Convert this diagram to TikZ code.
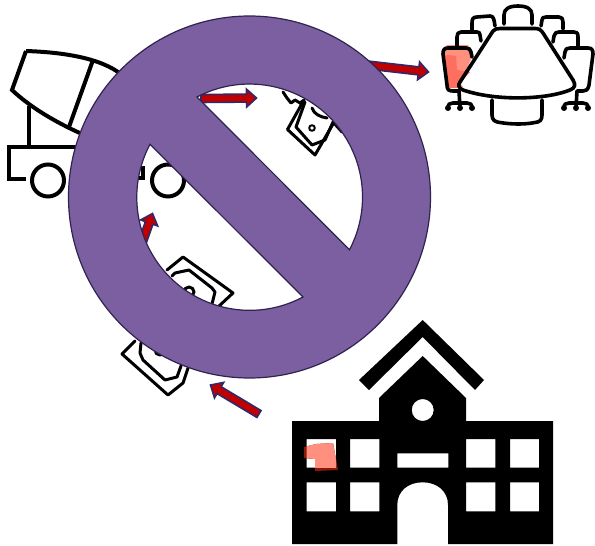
\documentclass[tikz,border=0pt]{standalone}
\usetikzlibrary{calc}
\definecolor{ringfill}{HTML}{7B5FA0}
\definecolor{ringline}{HTML}{2F2350}
\definecolor{arrowred}{HTML}{C00000}
\definecolor{arrowline}{HTML}{33286A}
\definecolor{patchlight}{HTML}{FF8F7F}
\definecolor{patchmid}{HTML}{FF6F60}
\definecolor{patchdark}{HTML}{8A1A08}
\tikzset{
  icon/.style={draw=black,line width=3.6pt,line join=round,line cap=round},
  truckline/.style={draw=black,line width=4pt,line join=miter,line cap=butt},
  thinicon/.style={draw=black,line width=3pt,line join=round,line cap=round},
  blockarrow/.style={draw=arrowline,fill=arrowred,line width=1.6pt,line join=miter},
  ring/.style={draw=ringline,fill=ringfill,line width=1.2pt,even odd rule},
}
\newcommand\blockarrow[2]{%
  \coordinate (hb) at ($(#2)!10pt!(#1)$);
  \draw[blockarrow] ($(#1)!4pt!90:(#2)$) -- ($(hb)!4pt!90:(#2)$) -- ($(hb)!9pt!90:(#2)$) -- (#2)
    -- ($(hb)!9pt!-90:(#2)$) -- ($(hb)!4pt!-90:(#2)$) -- ($(#1)!4pt!-90:(#2)$) -- cycle;}
\begin{document}
\begin{tikzpicture}[x=1pt,y=-1pt]
\useasboundingbox (0,0) rectangle (595,546);
% truck
\draw[truckline] (26,51) .. controls (55,52) and (95,56) .. (118,72);
\draw[truckline] (26,51) -- (12,90) .. controls (30,107) and (55,122) .. (82,134);
\draw[truckline] (93,60) -- (69,127);
\draw[truckline] (28.5,106) -- (28.5,146.5);
\draw[truckline] (26,178.5) -- (9,178.5) -- (9,146.5) -- (120,146.5);
\draw[truckline] (48,180.5) circle[radius=16];
\draw[truckline] (168,180.5) circle[radius=16];
\draw[truckline] (143,166) -- (143,178) -- (136,178);
% banknote, upper hole
\draw[thinicon] (283,92) -- (287,98) -- (291,103) -- (295,100) -- (300,103) -- (304,100) -- (287.5,129.5) -- (315,155) -- (333,124);
\draw[thinicon] (305,102) -- (296,127) -- (312,145) -- (325,140) -- (333,122) -- (342,132);
\draw[thinicon] (312,108) .. controls (314,114) and (320,117) .. (327,118);
\draw[thinicon,line width=2pt] (312,128) circle[radius=2.8];
% banknote, lower hole
\draw[thinicon] (167,270) -- (183,257) -- (233,293) -- (218,307);
\draw[thinicon] (172,276) -- (175,273) -- (189,270) -- (212,288) -- (215,292) -- (212,304);
\draw[thinicon] (189,292) circle[radius=5];
% banknote, below ring
\draw[thinicon] (135,341) -- (122,354) -- (168,395) -- (183,383) -- (188,368);
\draw[thinicon] (141,343) -- (140,353) -- (143,360) -- (165,380) -- (177,377) -- (181,366);
\draw[thinicon] (160,350) circle[radius=5];
% conference table: highlighted chair
\fill[patchlight] (443,50) -- (447,45) -- (468,45) -- (472,57) -- (460,83) -- (463,87) -- (449,88) -- cycle;
\fill[patchmid] (444,56) -- (448,55) -- (456,56) -- (457,70) -- (470,72) -- (460,83) -- (457,88) -- (449,88) -- cycle;
% conference table
\draw[icon] (493,31) .. controls (495,29) and (497,28.5) .. (500,28.5) -- (535,28.5) .. controls (539,28.5) and (541,30) .. (543,33) -- (573,80) .. controls (576,85) and (575,88) .. (570,90) .. controls (545,100) and (495,101) .. (463,90) .. controls (458,88) and (458,85) .. (460,82) -- cycle;
\draw[icon] (492,100) -- (492,115) .. controls (492,120) and (495,122) .. (500,122.5) .. controls (512,124.5) and (525,124.5) .. (535,122.5) .. controls (540,122) and (542,120) .. (542,115) -- (542,100);
\draw[icon] (504,24) -- (504,15) .. controls (504,9) and (509,6) .. (518,6) .. controls (527,6) and (532,9) .. (532,15) -- (532,24);
\draw[icon] (495,26) .. controls (494,20) and (494,16) .. (490,16) -- (477,17) .. controls (473,17) and (472,19) .. (472,23) -- (472,30);
\draw[icon] (481,41) -- (480,35) .. controls (480,33) and (479,32) .. (477,32) -- (461,32) .. controls (458,32) and (457,34) .. (457,37) -- (457,47);
\draw[icon] (472,57) -- (471,52) .. controls (470,49) and (469,48) .. (466,48) -- (448,48) .. controls (444,48) and (443,50) .. (443,54) -- (447,85) .. controls (447,90) and (449,91) .. (453,91) -- (459,91) -- (460,108);
\draw[icon] (448,108) .. controls (448,104) and (450,103) .. (453,103) -- (467,103) .. controls (470,103) and (472,104) .. (472,108);
\fill (448,108) circle[radius=3] (460,108) circle[radius=3] (472,108) circle[radius=3];
\draw[icon] (541,26) -- (542,20) .. controls (542,18) and (543,17) .. (546,17) -- (559,17) .. controls (562,17) and (563,19) .. (563,22) -- (563,29);
\draw[icon] (553,42) -- (554,36) .. controls (555,33) and (556,32) .. (559,32) -- (574,32) .. controls (577,32) and (578,33) .. (578,37) -- (578,47);
\draw[icon] (564,58) -- (565,52) .. controls (565,49) and (567,48) .. (570,48) -- (588,48) .. controls (592,48) and (593,50) .. (593,54) -- (589,85) .. controls (588,90) and (586,91) .. (583,91) -- (577,91) -- (576,108);
\draw[icon] (564,108) .. controls (564,104) and (566,103) .. (569,103) -- (583,103) .. controls (586,103) and (588,104) .. (588,108);
\fill (564,108) circle[radius=3] (576,108) circle[radius=3] (588,108) circle[radius=3];
% school
\fill (422.7,320) -- (484,380) -- (475,390) -- (422.7,337) -- (369,390) -- (359,380) -- cycle;
\fill[even odd rule] (292,421) -- (379,421) -- (379,398) -- (422.7,356) -- (466,398) -- (466,421) -- (553,421) -- (553,544) -- (448,544) -- (448,505)
  .. controls (448,491) and (437,482.3) .. (422.7,482.3) .. controls (408,482.3) and (397.3,491) .. (397.3,505) -- (397.3,544) -- (292,544) -- cycle
  (422.7,410) circle[radius=11]
  (306.7,439) rectangle (336,467.7) (350,439) rectangle (379.3,467.7) (466,439) rectangle (495.3,467.7) (510,439) rectangle (539,467.7)
  (306.7,482.3) rectangle (336,511.3) (350,482.3) rectangle (379.3,511.3) (466,482.3) rectangle (495.3,511.3) (510,482.3) rectangle (539,511.3)
  (397.3,453.3) rectangle (448.3,467.7);
\fill[patchdark] (304,447) -- (316,444) -- (333,443) -- (338,470) -- (315,471) -- (315,459) -- (304,458) -- cycle;
\begin{scope}
  \clip (306.7,439) rectangle (336,467.7);
  \fill[patchlight] (304,447) -- (316,444) -- (333,443) -- (338,470) -- (315,471) -- (315,459) -- (304,458) -- cycle;
\end{scope}
% arrows
\coordinate (a1t) at (201,98.5);   \coordinate (a1h) at (256.5,98);
\coordinate (a2t) at (350,63);     \coordinate (a2h) at (428.5,72);
\coordinate (a3t) at (141,246);    \coordinate (a3h) at (152.5,213.5);
\coordinate (a4t) at (259,414);    \coordinate (a4h) at (210.5,385);
\blockarrow{a1t}{a1h}
\blockarrow{a2t}{a2h}
\blockarrow{a3t}{a3h}
\blockarrow{a4t}{a4h}
% prohibition sign
\draw[ring] (249.5,197) circle[radius=181]
  (197,97) arc[start angle=242.3,end angle=387.8,radius=113] -- cycle
  (303,297) arc[start angle=61.9,end angle=208,radius=113] -- cycle;
\end{tikzpicture}
\end{document}
